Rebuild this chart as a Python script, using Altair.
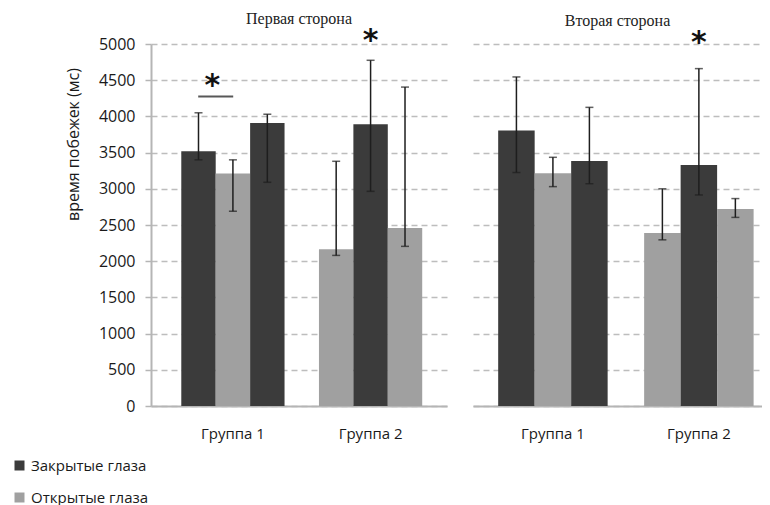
import altair as alt
import pandas as pd

# ---- data ----
C = "Закрытые глаза"
O = "Открытые глаза"
S1 = "Первая сторона"
S2 = "Вторая сторона"

sides = [S1] * 6 + [S2] * 6
groups = (["Группа 1"] * 3 + ["Группа 2"] * 3) * 2
slots = ["0", "1", "2"] * 4
conditions = [C, O, C, O, C, O] * 2
means = [3520, 3210, 3910, 2165, 3890, 2460,
         3805, 3215, 3385, 2390, 3330, 2720]
err_low = [3400, 2690, 3090, 2080, 2965, 2205,
           3225, 3030, 3070, 2295, 2915, 2605]
err_high = [4050, 3400, 4030, 3380, 4775, 4405,
            4545, 3435, 4125, 3000, 4660, 2865]

star_sides = [S1, S1, S2]
star_groups = ["Группа 1", "Группа 2", "Группа 2"]
star_pos = ["0|1", "1", "1"]
star_y = [4505, 5125, 5100]

line_sides = [S1]
line_groups = ["Группа 1"]
line_pos = ["0|1"]
line_y = [4275]

y_ticks = list(range(0, 5001, 500))

df = pd.DataFrame({"side": sides, "group": groups, "slot": slots,
                   "condition": conditions, "mean": means,
                   "lo": err_low, "hi": err_high})
stars_df = pd.DataFrame({"side": star_sides, "group": star_groups,
                         "pos": star_pos, "y": star_y})
lines_df = pd.DataFrame({"side": line_sides, "group": line_groups,
                         "pos": line_pos, "y": line_y})

DARK = "#3b3b3b"
LIGHT = "#a0a0a0"
ERR = "#1e1e1e"
SANS = "Open Sans"
TXT = "#1a1a1a"

color = alt.Color(
    "condition:N",
    scale=alt.Scale(domain=[C, O], range=[DARK, LIGHT]),
    legend=alt.Legend(
        title=None, orient="none", direction="vertical",
        legendX=-139, legendY=414,
        symbolType="square", symbolSize=100, symbolStrokeWidth=0,
        labelFont=SANS, labelFontSize=15, labelColor=TXT,
        rowPadding=16, labelOffset=4,
    ),
)


def panel(side, first, width, xpad_outer, xalign):
    d = df[df.side == side]
    s = stars_df[stars_df.side == side]
    l = lines_df[lines_df.side == side]

    xscale = alt.Scale(paddingInner=0.25, paddingOuter=xpad_outer, align=xalign)
    xaxis = alt.Axis(title=None, labelAngle=0, ticks=False, domainColor="#b5b5b5",
                     domainWidth=2, labelFont=SANS, labelFontSize=15,
                     labelColor=TXT, labelPadding=20)
    if first:
        yaxis = alt.Axis(title="время побежек (мс)", values=y_ticks, format="d",
                         grid=True, gridDash=[6, 4], gridColor="#bdbdbd", gridWidth=1.5,
                         domainColor="#b5b5b5", domainWidth=2, tickColor="#b5b5b5",
                         tickSize=6, tickWidth=1.5, labelFont=SANS, labelFontSize=16,
                         labelColor=TXT, labelPadding=10, titleFont=SANS,
                         titleFontSize=16, titleFontWeight="normal",
                         titleColor=TXT, titleX=-78, titleY=100,
                         titleBaseline="middle", titleAlign="center", titleAngle=270)
    else:
        yaxis = alt.Axis(title=None, values=y_ticks, grid=True, gridDash=[6, 4],
                         gridColor="#bdbdbd", gridWidth=1.5, domain=False,
                         ticks=False, labels=False)
    yscale = alt.Scale(domain=[0, 5000])

    def X():
        return alt.X("group:N", scale=xscale, axis=xaxis)

    def Y(field):
        return alt.Y(field, scale=yscale, axis=yaxis)

    xo_bar = alt.XOffset("slot:N", scale=alt.Scale(domain=["0", "1", "2"],
                                                   paddingInner=0, paddingOuter=0))
    xo_ann = alt.XOffset("pos:N", scale=alt.Scale(domain=["0", "0|1", "1", "1|2", "2"],
                                                  paddingInner=0, paddingOuter=0.5))

    bars = alt.Chart(d).mark_bar().encode(
        x=X(), xOffset=xo_bar, y=Y("mean:Q"), color=color)
    err = alt.Chart(d).mark_rule(color=ERR, strokeWidth=1.5).encode(
        x=X(), xOffset=xo_bar, y=Y("lo:Q"), y2="hi:Q")
    cap_lo = alt.Chart(d).mark_tick(color=ERR, thickness=1.5, size=8).encode(
        x=X(), xOffset=xo_bar, y=Y("lo:Q"))
    cap_hi = alt.Chart(d).mark_tick(color=ERR, thickness=1.5, size=8).encode(
        x=X(), xOffset=xo_bar, y=Y("hi:Q"))
    star = alt.Chart(s).mark_text(text="*", font="DejaVu Sans", fontSize=30,
                                  fontWeight="bold", color="#111", baseline="middle",
                                  dy=6).encode(
        x=X(), xOffset=xo_ann, y=Y("y:Q"))
    layers = [bars, err, cap_lo, cap_hi, star]
    if len(l):
        sig = alt.Chart(l).mark_tick(color="#111", thickness=2, size=35).encode(
            x=X(), xOffset=xo_ann, y=Y("y:Q"))
        layers.append(sig)

    return alt.layer(*layers).resolve_scale(xOffset="independent").properties(
        width=width, height=362,
        title=alt.TitleParams(side, font="Liberation Serif", fontSize=16,
                              fontWeight="normal", color="#222", offset=-1,
                              frame="group"),
    )


p1 = panel(S1, True, 296, 0.2, 0.55)
p2 = panel(S2, False, 289, 0.115, 0.75)

chart = alt.hconcat(p1, p2, spacing=26).resolve_scale(
    xOffset="independent"
).properties(
    padding={"left": 4, "top": 2, "right": 0, "bottom": 0}
).configure_view(stroke=None).configure_title(anchor="middle")

chart.save("out.html", embed_options={"renderer": "svg", "actions": False})
